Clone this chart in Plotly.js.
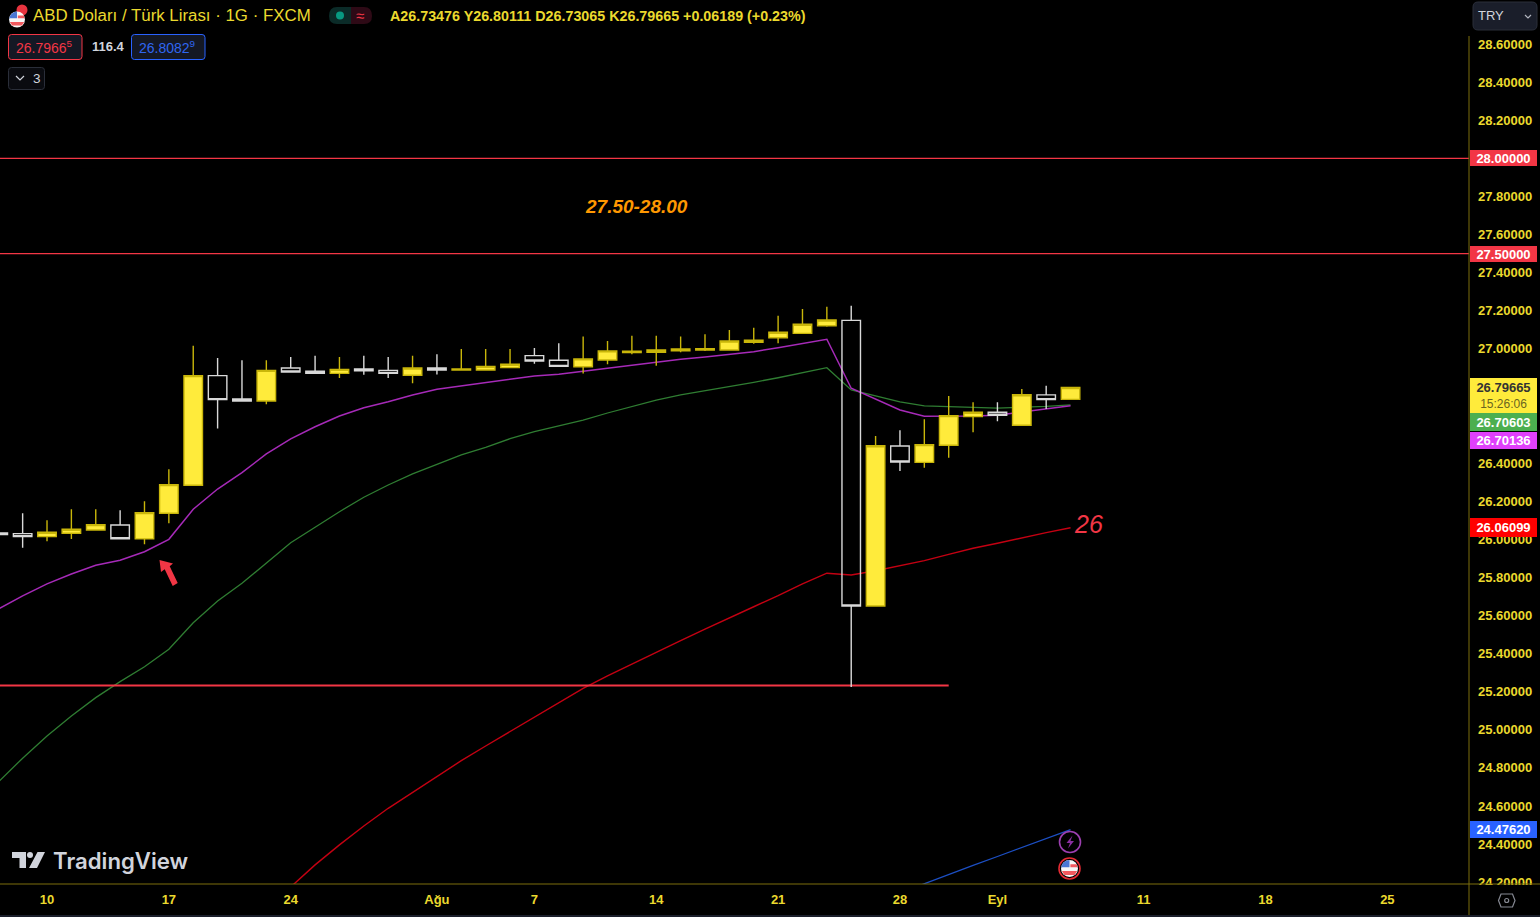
<!DOCTYPE html>
<html><head><meta charset="utf-8">
<script src="https://cdn.plot.ly/plotly-3.0.1.min.js"></script>
<style>html,body{margin:0;padding:0;background:#000;overflow:hidden}#c{width:1540px;height:917px}</style>
</head><body><div id="c"></div>
<script>
// ---- data ----
const barIndex = [-2,-1,0,1,2,3,4,5,6,7,8,9,10,11,12,13,14,15,16,17,18,19,20,21,22,23,24,25,26,27,28,29,30,31,32,33,34,35,36,37,38,39,40,41,42];
const opens  = [26.033,26.030,26.014,26.032,26.049,26.075,26.002,26.137,26.284,26.859,26.737,26.726,26.899,26.882,26.871,26.894,26.887,26.861,26.899,26.889,26.889,26.901,26.964,26.940,26.906,26.941,26.980,26.982,26.989,26.994,26.994,27.034,27.058,27.081,27.121,27.149,25.650,26.490,26.404,26.494,26.644,26.667,26.599,26.758,26.73476];
const highs  = [26.033,26.137,26.100,26.158,26.158,26.152,26.200,26.368,27.016,26.952,26.940,26.940,26.957,26.964,26.957,26.964,26.957,26.964,26.971,26.999,26.999,26.999,27.004,27.029,27.064,27.041,27.069,27.069,27.064,27.076,27.099,27.111,27.174,27.209,27.221,27.226,26.542,26.572,26.630,26.752,26.719,26.719,26.789,26.806,26.80111];
const lows   = [26.025,25.956,25.990,26.002,26.049,26.003,25.974,26.084,26.284,26.581,26.726,26.709,26.878,26.871,26.847,26.864,26.847,26.819,26.865,26.889,26.889,26.901,26.922,26.908,26.871,26.919,26.971,26.911,26.982,26.989,26.994,27.027,27.029,27.081,27.116,25.225,25.650,26.359,26.376,26.428,26.562,26.620,26.599,26.684,26.73065];
const closes = [26.025,26.014,26.037,26.053,26.077,26.003,26.140,26.287,26.859,26.733,26.726,26.887,26.878,26.871,26.892,26.884,26.871,26.899,26.889,26.894,26.908,26.919,26.936,26.908,26.947,26.989,26.987,26.994,26.999,27.001,27.041,27.045,27.087,27.129,27.151,25.650,26.491,26.406,26.497,26.649,26.667,26.651,26.759,26.733,26.79665];
const emaMagenta = [25.634,25.703,25.766,25.818,25.864,25.890,25.935,26.000,26.158,26.264,26.350,26.448,26.527,26.591,26.647,26.691,26.722,26.758,26.788,26.806,26.824,26.842,26.857,26.866,26.882,26.899,26.915,26.929,26.945,26.957,26.971,26.985,27.006,27.027,27.050,26.793,26.737,26.679,26.646,26.646,26.647,26.651,26.667,26.686,26.70136];
const emaGreen = [24.726,24.851,24.968,25.073,25.169,25.253,25.331,25.423,25.562,25.676,25.769,25.877,25.982,26.063,26.145,26.221,26.285,26.343,26.394,26.443,26.483,26.528,26.565,26.595,26.626,26.663,26.697,26.731,26.758,26.779,26.801,26.824,26.848,26.875,26.901,26.784,26.754,26.721,26.700,26.695,26.693,26.689,26.693,26.698,26.70603];
const redIndex = [10,11,12,13,14,15,16,17,18,19,20,21,22,23,24,25,26,27,28,29,30,31,32,33,34,35,36,37,38,39,40,41,42];
const emaRed = [24.175,24.291,24.396,24.495,24.588,24.670,24.754,24.838,24.915,24.990,25.064,25.139,25.218,25.283,25.346,25.405,25.468,25.529,25.589,25.646,25.704,25.766,25.822,25.813,25.835,25.862,25.888,25.921,25.953,25.979,26.009,26.035,26.06099];
const blueIndex = [35,36,37,38,39,40,41,42];
const emaBlue = [24.144,24.193,24.241,24.288,24.335,24.381,24.429,24.4762];
const levelPrices = [28.0, 27.5];
const levelSpan = [-3, 60];
const supportPrice = 25.232;
const supportSpan = [-3, 37];
const xTickVals = [0,5,10,16,20,25,30,35,39,45,50,55];
const xTickText = ['10','17','24','Ağu','7','14','21','28','Eyl','11','18','25'];
const yTickVals = [24.2,24.4,24.6,24.8,25,25.2,25.4,25.6,25.8,26,26.2,26.4,26.6,26.8,27,27.2,27.4,27.6,27.8,28,28.2,28.4,28.6];
const lastPrice = 26.79665;
const legendOHLC = 'A26.73476 Y26.80111 D26.73065 K26.79665 +0.06189 (+0.23%)';
// -----------------------------------

const W = 1540, H = 917, PL = 1469, PT = 36, PB = 884;
const PX = x => x / PL, PY = y => (PB - y) / (PB - PT);
const xRange = [-1.929, 58.35], yRange = [24.1906, 28.642];
const GOLD = '#ebd92e', AXIS = '#7d6f0c', RED = '#f23645';
const FONT = '"Liberation Sans", Arial, sans-serif';

const lineTrace = (x, y, color, width) => ({type:'scatter', mode:'lines', x, y, line:{color, width}, hoverinfo:'skip', showlegend:false, xaxis:'x', yaxis:'y'});

const traces = [
  lineTrace(blueIndex, emaBlue, '#1c4fc4', 1.3),
  lineTrace(redIndex, emaRed, '#c40012', 1.4),
  lineTrace(barIndex, emaGreen, '#2f7d32', 1.3),
  lineTrace(barIndex, emaMagenta, '#a62ab8', 1.5),
  lineTrace(levelSpan, [levelPrices[0], levelPrices[0]], RED, 1.3),
  lineTrace(levelSpan, [levelPrices[1], levelPrices[1]], RED, 1.3),
  lineTrace(supportSpan, [supportPrice, supportPrice], RED, 2),
  {type:'candlestick', x:barIndex, open:opens, high:highs, low:lows, close:closes,
   xaxis:'x2', yaxis:'y2', whiskerwidth:0, hoverinfo:'skip', showlegend:false,
   increasing:{line:{color:'#c9b60a', width:1.4}, fillcolor:'#ffeb3b'},
   decreasing:{line:{color:'#d9d9d9', width:1.4}, fillcolor:'rgba(0,0,0,0)'}}
];

const rr = (x0,y0,x1,y1,r) => `M${PX(x0+r)},${PY(y0)} L${PX(x1-r)},${PY(y0)} Q${PX(x1)},${PY(y0)} ${PX(x1)},${PY(y0+r)} L${PX(x1)},${PY(y1-r)} Q${PX(x1)},${PY(y1)} ${PX(x1-r)},${PY(y1)} L${PX(x0+r)},${PY(y1)} Q${PX(x0)},${PY(y1)} ${PX(x0)},${PY(y1-r)} L${PX(x0)},${PY(y0+r)} Q${PX(x0)},${PY(y0)} ${PX(x0+r)},${PY(y0)} Z`;
const poly = pts => 'M' + pts.map(p => PX(p[0]) + ',' + PY(p[1])).join(' L') + ' Z';
const open = pts => 'M' + pts.map(p => PX(p[0]) + ',' + PY(p[1])).join(' L');
const pathS = (path, fill, line, lw) => ({type:'path', xref:'paper', yref:'paper', layer:'above', path, fillcolor:fill||'rgba(0,0,0,0)', line:{color:line||'rgba(0,0,0,0)', width:lw===undefined?1:lw}});
const rectS = (x0,y0,x1,y1,fill) => ({type:'rect', xref:'paper', yref:'paper', layer:'above', x0:PX(x0), x1:PX(x1), y0:PY(y0), y1:PY(y1), fillcolor:fill, line:{width:0}});
const circS = (cx,cy,r,fill,line,lw) => ({type:'circle', xref:'paper', yref:'paper', layer:'above', x0:PX(cx-r), x1:PX(cx+r), y0:PY(cy+r), y1:PY(cy-r), fillcolor:fill||'rgba(0,0,0,0)', line:{color:line||'rgba(0,0,0,0)', width:lw===undefined?1:lw}});

const flag = (cx,cy,r) => [
  circS(cx,cy,r,'#f7f7f7'),
  pathS(`M${PX(cx-r)},${PY(cy-r*0.15)} L${PX(cx-r)},${PY(cy)} Q${PX(cx-r*0.9)},${PY(cy-r*0.9)} ${PX(cx)},${PY(cy-r)} L${PX(cx)},${PY(cy-r*0.15)} Z`,'#4a77d4'),
  pathS(poly([[cx-r*0.9,cy+r*0.3],[cx+r*0.9,cy+r*0.3],[cx+r*0.6,cy+r*0.75],[cx-r*0.6,cy+r*0.75]]),'#f25a5f'),
  pathS(poly([[cx+r*0.1,cy-r*0.5],[cx+r*0.85,cy-r*0.5],[cx+r*0.95,cy-r*0.15],[cx+r*0.1,cy-r*0.15]]),'#f25a5f')
];

const shapes = [
  rectS(1470,885,1540,917,'#000'),
  rectS(0,915,1540,917,'#1a1e2a'),
  rectS(0,883.5,1540,884.5,AXIS),
  rectS(1468.5,36,1469.5,915,AXIS),
  // TRY button
  pathS(rr(1473,2,1537,30,5),'#1a1e2a','#2a2e39',1),
  pathS(open([[1525,15],[1528,18],[1531,15]]),null,'#b2b5be',1.2),
  // legend boxes
  pathS(rr(8.5,34.5,82,59.5,3),'#141824',RED,1),
  pathS(rr(131.5,34.5,205,59.5,3),'#141824','#2962ff',1),
  pathS(rr(8.5,67.5,44.5,89.5,3),'#0a0b10','#2a2e39',1),
  pathS(open([[16,76],[20,80],[24,76]]),null,'#d1d4dc',1.2),
  // status pill
  pathS(`M${PX(337)},${PY(7)} L${PX(351)},${PY(7)} L${PX(351)},${PY(24)} L${PX(337)},${PY(24)} Q${PX(329)},${PY(24)} ${PX(329)},${PY(16)} Q${PX(329)},${PY(7)} ${PX(337)},${PY(7)} Z`,'#0b2b28'),
  pathS(`M${PX(351)},${PY(7)} L${PX(364)},${PY(7)} Q${PX(372)},${PY(7)} ${PX(372)},${PY(16)} Q${PX(372)},${PY(24)} ${PX(364)},${PY(24)} L${PX(351)},${PY(24)} Z`,'#2e0a16'),
  circS(340,15.5,4,'#089981'),
  // symbol icon
  circS(22,10,5.5,'#e8343f'),
  ...flag(17,19.5,8),
  // hand-drawn red arrow
  pathS(poly([[159.5,560],[173,563.5],[169.7,566.3],[177.7,583],[172.7,586],[164.7,569.3],[161,572]]),RED),
  // TradingView logo
  pathS(poly([[12,852],[26,852],[26,868],[19.5,868],[19.5,858],[12,858]]),'#d1d4dc'),
  circS(30,855,3,'#d1d4dc'),
  pathS(poly([[37.5,852],[45,852],[37,868],[29,868]]),'#d1d4dc'),
  // event icons
  circS(1070,842,10.5,'#000','#9c3fb0',1.6),
  pathS(poly([[1072.5,835.5],[1066.5,843],[1070,843],[1068,848.5],[1074,841],[1070.5,841]]),'#8a2fa0'),
  ...flag(1069.5,868.5,8.5),
  circS(1069.5,868.5,10.5,null,'#e32a33',1.6),
  // settings hexagon
  pathS(poly([[1501,894],[1512.5,894],[1515,900.5],[1512.5,907],[1501,907],[1498.5,900.5]]),null,'#868993',1.2),
  circS(1506.7,900.5,2,null,'#868993',1.2)
];

const txt = (x,y,text,size,color,opts={}) => Object.assign({xref:'paper', yref:'paper', x:PX(x), y:PY(y), text, showarrow:false, xanchor:'left', yanchor:'middle', font:{family:FONT, size, color}}, opts);
const priceLabel = (value, top, bottom, bg, color) => ({
  xref:'paper', yref:'paper', x:PX(1470), y:PY((top+bottom)/2), xanchor:'left', yanchor:'middle', showarrow:false,
  text:'<b>'+value.toFixed(5)+'</b>', font:{family:FONT,size:13,color}, bgcolor:bg, width:67, height:bottom-top, borderpad:0, borderwidth:0, align:'center'
});

const annotations = [
  txt(31,16,'ABD Doları / Türk Lirası · 1G · FXCM',16.85,GOLD,{font:{family:FONT,size:16.85,color:GOLD,weight:500}}),
  txt(388,16,legendOHLC,14.3,GOLD,{font:{family:FONT,size:14.3,color:GOLD,weight:600}}),
  txt(14,47,'26.7966<sup>5</sup>',14,RED),
  txt(90,47,'116.4',13,'#d1d4dc',{font:{family:FONT,size:13,color:'#d1d4dc',weight:600}}),
  txt(137,47,'26.8082<sup>9</sup>',14,'#2f66f0'),
  txt(31,78,'3',13.5,'#d1d4dc'),
  txt(360,16,'≈',15,RED,{xanchor:'center'}),
  txt(1476,16,'TRY',13,'#d1d4dc'),
  txt(51,860.5,'TradingView',22.2,'#d1d4dc',{font:{family:'Inter, '+FONT,size:22.2,color:'#d1d4dc',weight:600}}),
  {xref:'x', yref:'y', x:24.2, y:27.745, text:'<b><i>27.50-28.00</i></b>', showarrow:false, xanchor:'center', yanchor:'middle', font:{family:FONT,size:19,color:'#ff9800'}},
  {xref:'x', yref:'y', x:42.05, y:26.08, text:'<i>26</i>', showarrow:false, xanchor:'left', yanchor:'middle', font:{family:FONT,size:25,color:RED}},
  priceLabel(levelPrices[0],150,166,RED,'#fff'),
  priceLabel(levelPrices[1],246,262,RED,'#fff'),
  Object.assign(priceLabel(lastPrice,378,413,'#ffeb3b','#333'),{text:'<b>'+lastPrice.toFixed(5)+'</b><br><span style="font-size:12px;color:#6a6420">15:26:06</span>'}),
  priceLabel(emaGreen[emaGreen.length-1],413,431,'#4caf50','#fff'),
  priceLabel(emaMagenta[emaMagenta.length-1],432,449,'#e040fb','#fff'),
  priceLabel(emaRed[emaRed.length-1],518,537,'#ff0000','#fff'),
  priceLabel(emaBlue[emaBlue.length-1],821,838,'#2962ff','#fff')
];

const tickFont = {family:FONT, size:13, color:GOLD, weight:700};
const layout = {
  width:W, height:H, paper_bgcolor:'#000', plot_bgcolor:'#000', showlegend:false, hovermode:false, dragmode:false,
  margin:{l:0, r:W-PL, t:PT, b:H-PB, pad:0}, boxgap:0.24, boxgroupgap:0, boxmode:'overlay',
  xaxis:{range:xRange, type:'linear', tickmode:'array', tickvals:xTickVals, ticktext:xTickText, tickfont:tickFont, showgrid:false, zeroline:false, showline:false, ticks:'', ticklabelstandoff:6, rangeslider:{visible:false}},
  yaxis:{range:yRange, side:'right', type:'linear', tickmode:'array', tickvals:yTickVals, ticktext:yTickVals.map(v=>v.toFixed(5)), tickfont:tickFont, showgrid:false, zeroline:false, showline:false, ticks:'', ticklabelstandoff:8},
  xaxis2:{range:xRange, type:'linear', overlaying:'x', visible:false, showgrid:false, zeroline:false, rangeslider:{visible:false}},
  yaxis2:{range:yRange, type:'linear', overlaying:'y', side:'right', visible:false, showgrid:false, zeroline:false},
  shapes, annotations
};
Plotly.newPlot('c', traces, layout, {displayModeBar:false, staticPlot:true});
</script></body></html>
